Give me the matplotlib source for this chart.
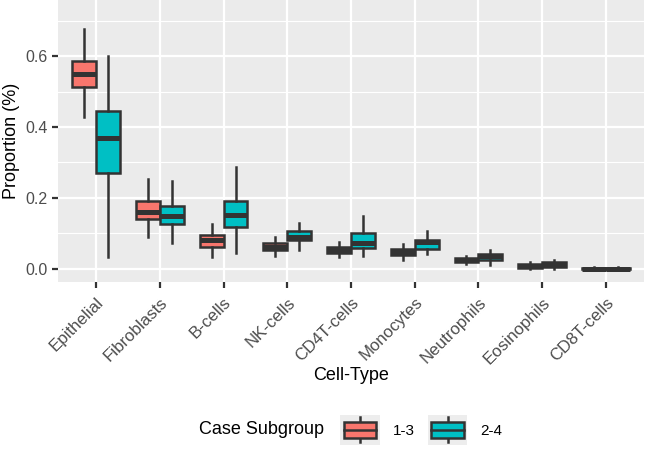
import matplotlib
matplotlib.use("Agg")
import matplotlib.pyplot as plt
from matplotlib.legend_handler import HandlerBase
from matplotlib.patches import Rectangle, Patch
from matplotlib.lines import Line2D
from matplotlib.ticker import MultipleLocator, FormatStrFormatter

plt.rcParams['font.family'] = ['Liberation Sans', 'DejaVu Sans']

cell_types = ['Epithelial', 'Fibroblasts', 'B-cells', 'NK-cells', 'CD4T-cells',
              'Monocytes', 'Neutrophils', 'Eosinophils', 'CD8T-cells']
groups = ['1-3', '2-4']
colors = ['#F8766D', '#00BFC4']

# box stats: lower whisker, Q1, median, Q3, upper whisker
lo_13 = [0.427, 0.089, 0.033, 0.037, 0.033, 0.025, 0.014, 0.000, 0.000]
q1_13 = [0.514, 0.140, 0.063, 0.054, 0.046, 0.039, 0.019, 0.003, 0.000]
med_13 = [0.549, 0.161, 0.080, 0.061, 0.054, 0.048, 0.024, 0.008, 0.001]
q3_13 = [0.587, 0.191, 0.095, 0.072, 0.063, 0.056, 0.030, 0.015, 0.003]
hi_13 = [0.675, 0.253, 0.127, 0.091, 0.077, 0.070, 0.037, 0.018, 0.004]

lo_24 = [0.033, 0.072, 0.046, 0.054, 0.037, 0.042, 0.012, 0.000, 0.000]
q1_24 = [0.270, 0.127, 0.119, 0.082, 0.058, 0.057, 0.025, 0.006, 0.000]
med_24 = [0.368, 0.149, 0.152, 0.091, 0.072, 0.075, 0.035, 0.012, 0.001]
q3_24 = [0.446, 0.177, 0.191, 0.106, 0.100, 0.082, 0.042, 0.019, 0.003]
hi_24 = [0.600, 0.249, 0.288, 0.130, 0.149, 0.107, 0.054, 0.025, 0.004]

EDGE = '#333333'
LW = 1.8


def make_stats(lo, q1, med, q3, hi):
    return [dict(whislo=a, q1=b, med=c, q3=d, whishi=e, fliers=[])
            for a, b, c, d, e in zip(lo, q1, med, q3, hi)]


class BoxKey(HandlerBase):
    # ggplot-style legend key: grey square with a little boxplot
    def create_artists(self, legend, orig_handle, xdescent, ydescent,
                       width, height, fontsize, trans):
        x0, y0 = -xdescent, -ydescent
        bg = Rectangle((x0, y0), width, height, facecolor='#EDEDED',
                       edgecolor='none', transform=trans)
        cx = x0 + width / 2
        whisk = Line2D([cx, cx], [y0 + 0.08 * height, y0 + 0.93 * height],
                       color=EDGE, lw=LW, transform=trans)
        box = Rectangle((x0 + 0.09 * width, y0 + 0.225 * height), 0.82 * width,
                        0.55 * height, facecolor=orig_handle.get_facecolor(),
                        edgecolor=EDGE, lw=LW, transform=trans)
        med = Line2D([x0 + 0.09 * width, x0 + 0.91 * width],
                     [y0 + 0.5 * height] * 2, color=EDGE, lw=LW, transform=trans)
        return [bg, whisk, box, med]


fig = plt.figure(figsize=(6.46, 4.51), dpi=100)
ax = fig.add_axes([58 / 646, 1 - 282 / 451, 586 / 646, 282 / 451])
ax.set_facecolor('#EBEBEB')

pos = list(range(len(cell_types)))
all_stats = [make_stats(lo_13, q1_13, med_13, q3_13, hi_13),
             make_stats(lo_24, q1_24, med_24, q3_24, hi_24)]
for k, st in enumerate(all_stats):
    off = -0.1875 if k == 0 else 0.1875
    ax.bxp(st, positions=[p + off for p in pos], widths=0.375,
           showcaps=False, showfliers=False, patch_artist=True,
           boxprops=dict(facecolor=colors[k], edgecolor=EDGE, lw=LW),
           whiskerprops=dict(color=EDGE, lw=LW),
           medianprops=dict(color=EDGE, lw=LW * 2, solid_capstyle='butt'),
           zorder=3)

ax.set_xlim(-0.6, len(cell_types) - 0.4)
ax.set_ylim(-0.037, 0.758)
ax.set_xticks(pos)
ax.set_xticklabels(cell_types, rotation=45, ha='right', va='top',
                   rotation_mode='anchor', fontsize=12.2)
ax.yaxis.set_major_locator(MultipleLocator(0.2))
ax.yaxis.set_minor_locator(MultipleLocator(0.1))
ax.yaxis.set_major_formatter(FormatStrFormatter('%.1f'))
ax.grid(which='major', color='white', lw=1.6, zorder=0)
ax.grid(which='minor', axis='y', color='white', lw=0.8, zorder=0)
ax.set_axisbelow(True)
for s in ax.spines.values():
    s.set_visible(False)
ax.tick_params(axis='both', which='major', length=4.2, width=1.6,
               color=EDGE, labelcolor='#4D4D4D', pad=3)
ax.tick_params(axis='x', which='major', pad=5)
ax.tick_params(axis='y', which='major', labelsize=11.5)
ax.tick_params(axis='y', which='minor', length=0)

ax.set_ylabel('Proportion (%)', fontsize=13, labelpad=4)
ax.set_xlabel('Cell-Type', fontsize=13, va='center')
ax.xaxis.set_label_coords(0.5, -(375 - 282) / 282)

fig.text(199 / 646, 1 - 430 / 451, 'Case Subgroup', fontsize=13,
         ha='left', va='center')
handles = [Patch(facecolor=c) for c in colors]
ax.legend(handles, groups, handler_map={Patch: BoxKey()},
          loc='center left', bbox_to_anchor=(340 / 646, 1 - 430 / 451),
          bbox_transform=fig.transFigure, ncol=2, frameon=False,
          fontsize=11, handlelength=2.6, handleheight=2.6,
          handletextpad=0.85, columnspacing=0.85, borderpad=0, borderaxespad=0)

fig.savefig('out.png', dpi=100)
